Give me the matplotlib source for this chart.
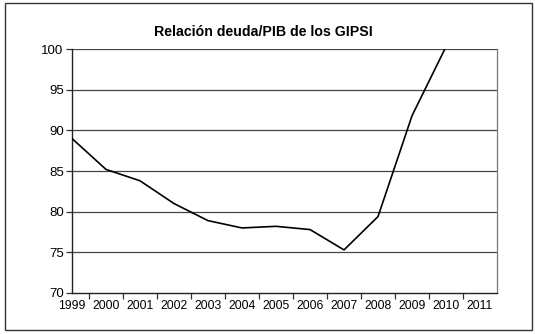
import matplotlib.pyplot as plt
from matplotlib.patches import Rectangle

years = [1999, 2000, 2001, 2002, 2003, 2004, 2005, 2006, 2007, 2008, 2009, 2010]
ratio = [89.0, 85.2, 83.8, 81.0, 78.9, 78.0, 78.2, 77.8, 75.3, 79.4, 91.8, 100.3]
year_labels = [str(y) for y in range(1999, 2012)]

plt.rcParams['font.family'] = ['Liberation Sans', 'DejaVu Sans']

fig = plt.figure(figsize=(5.35, 3.34), dpi=100)
ax = fig.add_axes([0.1346, 0.1228, 0.7944, 0.7302])

# horizontal grid
for v in range(75, 101, 5):
    ax.axhline(v, color='#444444', lw=0.9, zorder=1)

ax.plot(years, ratio, color='black', lw=1.2, zorder=3)

ax.set_xlim(1999, 2011.5)
ax.set_ylim(70, 100)
ax.set_yticks(range(70, 101, 5))
ax.set_xticks(range(1999, 2012))
ax.set_xticklabels(year_labels)
ax.set_xticks([y + 0.5 for y in range(1999, 2011)], minor=True)
ax.tick_params(axis='x', which='major', length=0, labelsize=8.8, pad=5)
ax.tick_params(axis='x', which='minor', length=4, width=0.9, color='#333333', direction='out')
ax.tick_params(axis='y', length=4, width=0.9, labelsize=9.5, pad=2, color='#333333')

for s in ['left', 'bottom']:
    ax.spines[s].set_color('#222222')
    ax.spines[s].set_linewidth(1.0)
ax.spines['top'].set_visible(False)
ax.spines['right'].set_color('#777777')
ax.spines['right'].set_linewidth(0.9)

fig.text(0.492, 0.904, 'Relación deuda/PIB de los GIPSI', ha='center', va='center',
         fontsize=10.2, fontweight='bold')

fig.patches.append(Rectangle((0.009, 0.012), 0.985, 0.978, transform=fig.transFigure,
                             fill=False, edgecolor='#333333', lw=1.0))

fig.savefig('out.png', dpi=100)
